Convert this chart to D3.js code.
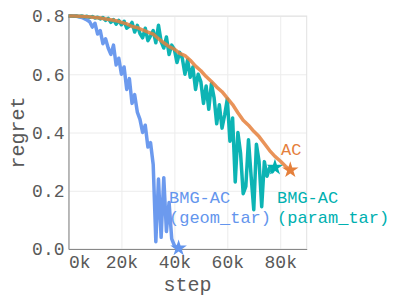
<!DOCTYPE html>
<html>
<head>
<meta charset="utf-8">
<script src="https://cdn.jsdelivr.net/npm/d3@7"></script>
<style>
  body { margin: 0; background: #fff; }
  text { font-family: "Liberation Mono", "Courier New", monospace; }
</style>
</head>
<body>
<div id="chart"></div>
<script>
// steps are in thousands
const xTicks = [0, 20, 40, 60, 80];
const yTicks = [0, 0.2, 0.4, 0.6, 0.8];

const geomSteps = [0, 1, 2, 3, 4, 5, 6, 7, 8, 9, 10, 11, 12, 13, 14, 15, 16, 17, 18, 19, 20,
    21, 22, 23, 24, 25, 26, 27, 28, 29, 30, 31, 32, 33, 34, 35, 36, 37, 38, 39, 40, 41, 41.6];
const geomRegret = [0.800, 0.800, 0.800, 0.799, 0.797, 0.795, 0.791, 0.786, 0.780, 0.762, 0.775,
    0.738, 0.750, 0.705, 0.722, 0.690, 0.668, 0.700, 0.632, 0.655, 0.600, 0.625, 0.548, 0.585,
    0.500, 0.530, 0.470, 0.445, 0.400, 0.425, 0.350, 0.365, 0.290, 0.025, 0.240, 0.040, 0.245,
    0.060, 0.160, 0.035, 0.012, 0.005, 0.003];

const paramSteps = [0, 1, 2, 3, 4, 5, 6, 7, 8, 9, 10, 11, 12, 13, 14, 15, 16, 17, 18, 19, 20,
    21, 22, 23, 24, 25, 26, 27, 28, 29, 30, 31, 32, 33, 34, 35, 36, 37, 38, 39, 40, 41, 42, 43,
    44, 45, 46, 47, 48, 49, 50, 51, 52, 53, 54, 55, 56, 57, 58, 59, 60, 61, 62, 63, 64, 65, 66,
    67, 68, 69, 70, 71, 72, 73, 74, 75, 76, 77, 78];
const paramRegret = [0.800, 0.800, 0.799, 0.800, 0.798, 0.800, 0.797, 0.799, 0.795, 0.798, 0.793,
    0.796, 0.790, 0.795, 0.785, 0.792, 0.778, 0.788, 0.772, 0.785, 0.770, 0.782, 0.758, 0.765,
    0.778, 0.745, 0.768, 0.740, 0.725, 0.758, 0.715, 0.732, 0.750, 0.708, 0.768, 0.712, 0.690,
    0.728, 0.668, 0.700, 0.685, 0.640, 0.675, 0.655, 0.600, 0.650, 0.590, 0.625, 0.548, 0.600,
    0.575, 0.500, 0.560, 0.480, 0.568, 0.520, 0.430, 0.495, 0.415, 0.460, 0.515, 0.370, 0.450,
    0.230, 0.400, 0.330, 0.190, 0.215, 0.375, 0.250, 0.135, 0.360, 0.300, 0.145, 0.300, 0.250,
    0.280, 0.265, 0.280];

const acSteps = [0, 2, 4, 6, 8, 10, 12, 14, 16, 18, 20, 22, 24, 26, 28, 30, 32, 34, 36, 38, 40,
    42, 44, 46, 48, 50, 52, 54, 56, 58, 60, 62, 64, 66, 68, 70, 72, 74, 76, 78, 80, 82, 83.8];
const acRegret = [0.800, 0.800, 0.799, 0.798, 0.797, 0.795, 0.793, 0.790, 0.787, 0.784, 0.778,
    0.773, 0.764, 0.760, 0.752, 0.745, 0.738, 0.722, 0.708, 0.695, 0.686, 0.672, 0.664, 0.648,
    0.628, 0.612, 0.592, 0.575, 0.556, 0.540, 0.518, 0.496, 0.468, 0.442, 0.425, 0.404, 0.386,
    0.362, 0.338, 0.318, 0.302, 0.284, 0.271];

const series = [
    { name: ["BMG-AC", "(geom_tar)"], steps: geomSteps, values: geomRegret, color: "#6495ed", opacity: 0.95, lx: 169, ly: 202.5 },
    { name: ["BMG-AC", "(param_tar)"], steps: paramSteps, values: paramRegret, color: "#00b0b0", opacity: 0.95, lx: 277, ly: 202.5 },
    { name: ["AC"], steps: acSteps, values: acRegret, color: "#e5803c", opacity: 0.85, lx: 281, ly: 155 }
];

const width = 400, height = 300;
const margin = { top: 16, right: 93.3, bottom: 51, left: 68.5 };

const svg = d3.select("#chart")
    .append("svg")
    .attr("width", width)
    .attr("height", height);

const x = d3.scaleLinear()
    .domain([0, 90])
    .range([margin.left, width - margin.right]);

const y = d3.scaleLinear()
    .domain([0, 0.8])
    .range([height - margin.bottom, margin.top]);

// grid
svg.append("g")
    .attr("transform", `translate(0,${height - margin.bottom})`)
    .call(d3.axisBottom(x).tickValues(xTicks).tickSize(-(y(0) - y(0.8))).tickFormat(""))
    .call(g => g.select(".domain").remove())
    .call(g => g.selectAll("line").attr("stroke", "#ececec"));

svg.append("g")
    .attr("transform", `translate(${margin.left},0)`)
    .call(d3.axisLeft(y).tickValues(yTicks).tickSize(-(x(90) - x(0))).tickFormat(""))
    .call(g => g.select(".domain").remove())
    .call(g => g.selectAll("line").attr("stroke", "#ececec"));

// view border
svg.append("rect")
    .attr("x", x(0))
    .attr("y", y(0.8))
    .attr("width", x(90) - x(0))
    .attr("height", y(0) - y(0.8))
    .attr("fill", "none")
    .attr("stroke", "#e2e2e2");

// axes
const xAxis = svg.append("g")
    .attr("transform", `translate(0,${height - margin.bottom})`)
    .call(d3.axisBottom(x).tickValues(xTicks).tickSize(0).tickPadding(6).tickFormat(d => d + "k"));
xAxis.select(".domain").attr("stroke", "#888");
xAxis.selectAll("text")
    .attr("fill", "#595959")
    .style("font-size", "18px")
    .attr("text-anchor", (d, i) => i === 0 ? "start" : "middle");

const yAxis = svg.append("g")
    .attr("transform", `translate(${margin.left},0)`)
    .call(d3.axisLeft(y).tickValues(yTicks).tickSize(0).tickPadding(4).tickFormat(d3.format(".1f")));
yAxis.select(".domain").attr("stroke", "#888");
yAxis.selectAll("text")
    .attr("fill", "#595959")
    .style("font-size", "18px");

svg.selectAll(".tick text").style("font-family", "'Liberation Mono', 'Courier New', monospace");

// axis titles
svg.append("text")
    .attr("x", (x(0) + x(90)) / 2)
    .attr("y", 291)
    .attr("text-anchor", "middle")
    .attr("fill", "#595959")
    .style("font-size", "20px")
    .text("step");

svg.append("text")
    .attr("transform", `translate(23.5,${(y(0) + y(0.8)) / 2}) rotate(-90)`)
    .attr("text-anchor", "middle")
    .attr("fill", "#595959")
    .style("font-size", "20px")
    .text("regret");

// lines
const line = d3.line()
    .x(d => x(d[0]))
    .y(d => y(d[1]));

series.forEach(s => {
    const pts = s.steps.map((st, i) => [st, s.values[i]]);
    svg.append("path")
        .datum(pts)
        .attr("fill", "none")
        .attr("stroke", s.color)
        .attr("stroke-width", 3.5)
        .attr("stroke-linejoin", "round")
        .attr("opacity", s.opacity)
        .attr("d", line);

    // star at the last point
    const last = pts[pts.length - 1];
    svg.append("path")
        .attr("d", d3.symbol(d3.symbolStar, 85)())
        .attr("transform", `translate(${x(last[0])},${y(last[1])})`)
        .attr("fill", s.color);

    // one text per label line
    s.name.forEach((t, i) => {
        svg.append("text")
            .attr("x", s.lx)
            .attr("y", s.ly + i * 20)
            .attr("fill", s.color)
            .style("font-size", "17px")
            .text(t);
    });
});
</script>
</body>
</html>
